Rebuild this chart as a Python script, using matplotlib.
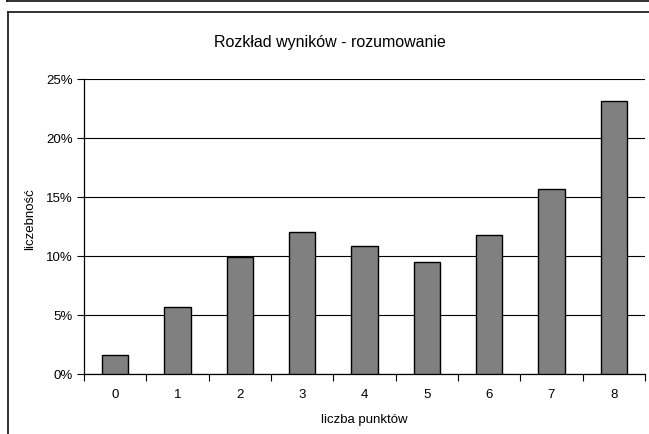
import matplotlib
matplotlib.use("Agg")
import matplotlib.pyplot as plt
from matplotlib.lines import Line2D
from matplotlib.ticker import FuncFormatter

categories = ["0", "1", "2", "3", "4", "5", "6", "7", "8"]
values = [1.6, 5.65, 9.9, 12.05, 10.8, 9.5, 11.8, 15.7, 23.1]
yticks = [0, 5, 10, 15, 20, 25]

plt.rcParams['font.family'] = ['Liberation Sans', 'DejaVu Sans']

W, H = 649, 435
fig = plt.figure(figsize=(W / 100, H / 100), dpi=100)
fig.patch.set_facecolor("white")

def fx(px):
    return px / W

def fy(py):
    return 1 - py / H

# frames
lc = "#222222"
fig.add_artist(Line2D([fx(7), fx(7)], [fy(0), fy(2)], color=lc, lw=1.3))
fig.add_artist(Line2D([fx(7), 1], [fy(2), fy(2)], color=lc, lw=1.3))
fig.add_artist(Line2D([fx(7.5), 1], [fy(13), fy(13)], color=lc, lw=1.3))
fig.add_artist(Line2D([fx(7.5), fx(7.5)], [fy(13), 0], color=lc, lw=1.3))

ax_l, ax_r, ax_t, ax_b = 84, 645, 80, 374.7
ax = fig.add_axes([fx(ax_l), fy(ax_b), fx(ax_r) - fx(ax_l), fy(ax_t) - fy(ax_b)])
x = list(range(len(categories)))
ax.bar(x, values, width=0.42, color="#808080", edgecolor="black", linewidth=1.0, zorder=3)
ax.set_xlim(-0.5, len(categories) - 0.5)
ax.set_ylim(0, 25)
ax.set_yticks(yticks)
ax.yaxis.set_major_formatter(FuncFormatter(lambda v, p: f"{int(v)}%"))
ax.set_xticks(x)
ax.set_xticklabels(categories)
ax.set_xticks([i + 0.5 for i in range(-1, len(categories))], minor=True)
ax.tick_params(axis="x", which="major", length=0, pad=10, labelsize=9.5)
ax.tick_params(axis="x", which="minor", length=5, width=0.8, direction="out", color="black")
ax.tick_params(axis="y", length=5, width=0.8, direction="out", labelsize=9.5, pad=3)
ax.grid(axis="y", color="black", linewidth=0.8, zorder=0)
for s in ["top", "right"]:
    ax.spines[s].set_visible(False)
for s in ["left", "bottom"]:
    ax.spines[s].set_linewidth(0.9)
    ax.spines[s].set_color("black")

ax.set_xlabel("liczba punktów", fontsize=9.5, labelpad=10)
ax.set_ylabel("liczebność", fontsize=9.5, va="center")
ax.yaxis.set_label_coords((30 - ax_l) / (ax_r - ax_l), (ax_b - 219) / (ax_b - ax_t))

fig.text(fx(330), fy(43), "Rozkład wyników - rozumowanie", ha="center", va="center", fontsize=11.5)

fig.savefig("out.png", dpi=100)
